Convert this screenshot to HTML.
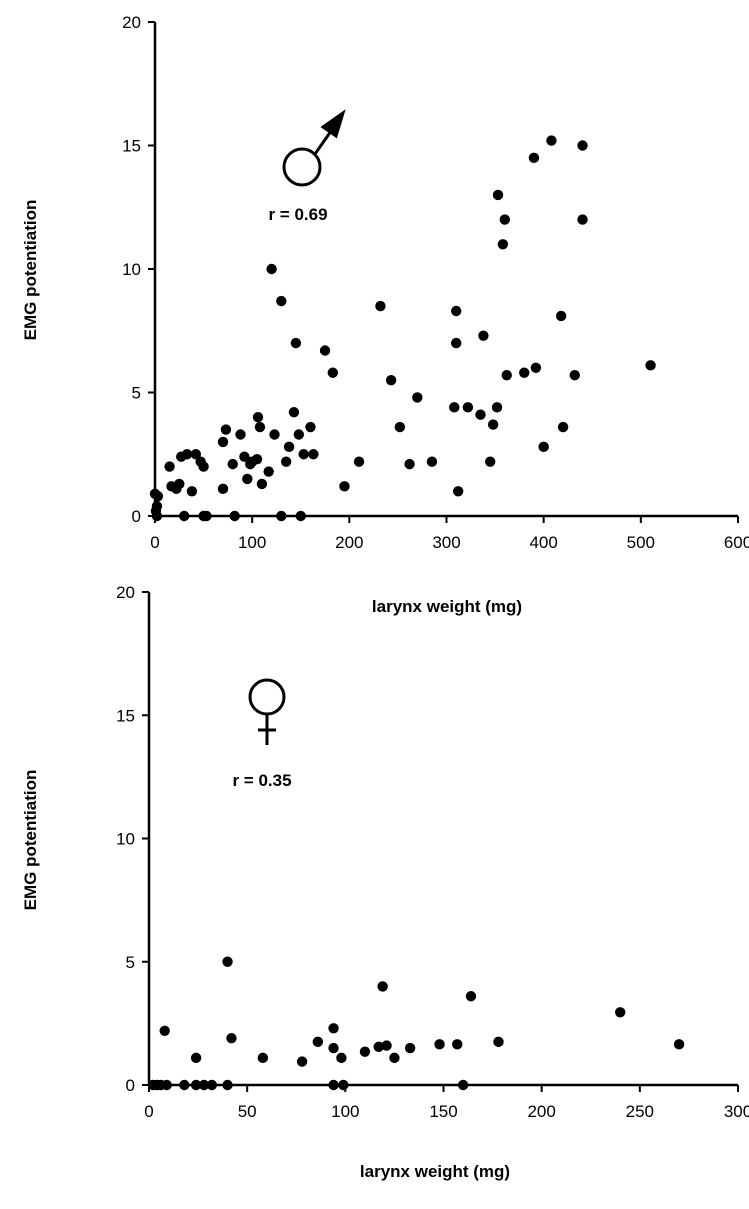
<!DOCTYPE html>
<html><head><meta charset="utf-8"><style>
body{margin:0;background:#fff}
svg{display:block;font-family:"Liberation Sans",Arial,sans-serif}
</style></head><body>
<svg id="s" width="749" height="1209" viewBox="0 0 749 1209"></svg>
<script>
const maleX=[0,3,2,1,2,15,17,22,25,27,30,33,38,42,47,50,50,53,70,70,73,80,82,88,92,95,98,100,105,106,108,110,117,120,123,130,130,135,138,143,145,148,150,153,160,163,175,183,195,210,232,243,252,262,270,285,308,310,310,312,322,335,338,345,348,352,353,358,360,362,380,390,392,400,408,418,420,432,440,440,510];
const maleY=[0.9,0.8,0.4,0.2,0,2.0,1.2,1.1,1.3,2.4,0,2.5,1.0,2.5,2.2,2.0,0,0,3.0,1.1,3.5,2.1,0,3.3,2.4,1.5,2.1,2.2,2.3,4.0,3.6,1.3,1.8,10.0,3.3,8.7,0,2.2,2.8,4.2,7.0,3.3,0,2.5,3.6,2.5,6.7,5.8,1.2,2.2,8.5,5.5,3.6,2.1,4.8,2.2,4.4,7.0,8.3,1.0,4.4,4.1,7.3,2.2,3.7,4.4,13.0,11.0,12.0,5.7,5.8,14.5,6.0,2.8,15.2,8.1,3.6,5.7,15.0,12.0,6.1];
const femX=[2,4,6,9,8,18,24,28,32,40,24,40,42,58,78,86,94,94,94,99,98,110,117,119,121,125,133,148,157,160,164,178,240,270];
const femY=[0,0,0,0,2.2,0,0,0,0,0,1.1,5.0,1.9,1.1,0.95,1.75,2.3,1.5,0,0,1.1,1.35,1.55,4.0,1.6,1.1,1.5,1.65,1.65,0,3.6,1.75,2.95,1.65];
const topXTicks=[0,100,200,300,400,500,600];
const botXTicks=[0,50,100,150,200,250,300];
const yTicks=[0,5,10,15,20];
const NS="http://www.w3.org/2000/svg";
const s=document.getElementById('s');
function el(t,a,txt){const e=document.createElementNS(NS,t);for(const k in a)e.setAttribute(k,a[k]);if(txt!==undefined)e.textContent=txt;s.appendChild(e);return e;}
function chart(p,xs,ys,xt,name){
 const sx=v=>p.x0+(v-p.xmin)/(p.xmax-p.xmin)*(p.x1-p.x0);
 const sy=v=>p.y0-v/20*(p.y0-p.y1);
 let e=el('line',{x1:p.x0,y1:p.y0,x2:p.x1,y2:p.y0,stroke:'#000','stroke-width':2.5});
 
 
 e=el('line',{x1:p.x0,y1:p.y0+1,x2:p.x0,y2:p.y1,stroke:'#000','stroke-width':2.5});
 
 
 xt.forEach(v=>{el('line',{x1:sx(v),y1:p.y0,x2:sx(v),y2:p.y0+7,stroke:'#000','stroke-width':2});
  const t=el('text',{x:sx(v),y:p.y0+32,'text-anchor':'middle','font-size':17},v);
  
  });
 yTicks.forEach(v=>{el('line',{x1:p.x0-7,y1:sy(v),x2:p.x0,y2:sy(v),stroke:'#000','stroke-width':2});
  const t=el('text',{x:p.x0-14,y:sy(v)+6,'text-anchor':'end','font-size':17},v);
  
  });
 xs.forEach((v,i)=>{const c=el('circle',{cx:sx(v),cy:sy(ys[i]),r:5.2,fill:'#000'});
  
  });
}
chart({x0:155,x1:738,xmin:0,xmax:600,y0:516,y1:22},maleX,maleY,topXTicks,'male-chart');
chart({x0:149,x1:738,xmin:0,xmax:300,y0:1085,y1:592},femX,femY,botXTicks,'female-chart');
</script>
<script>
(function(){
const NS="http://www.w3.org/2000/svg",s=document.getElementById('s');
function add(t,a,txt){const e=document.createElementNS(NS,t);for(const k in a)e.setAttribute(k,a[k]);if(txt!==undefined)e.textContent=txt;s.appendChild(e);return e;}
let e;
e=add('text',{x:0,y:0,transform:'translate(36,270) rotate(-90)','text-anchor':'middle','font-size':17,'font-weight':'bold'},'EMG potentiation');


e=add('text',{x:0,y:0,transform:'translate(36,840) rotate(-90)','text-anchor':'middle','font-size':17,'font-weight':'bold'},'EMG potentiation');


e=add('text',{x:447,y:612,'text-anchor':'middle','font-size':17,'font-weight':'bold'},'larynx weight (mg)');


e=add('text',{x:435,y:1177,'text-anchor':'middle','font-size':17,'font-weight':'bold'},'larynx weight (mg)');


e=add('text',{x:298,y:220,'text-anchor':'middle','font-size':17,'font-weight':'bold'},'r = 0.69');


e=add('text',{x:262,y:786,'text-anchor':'middle','font-size':17,'font-weight':'bold'},'r = 0.35');


const g=add('g',{stroke:'#000','stroke-width':3,fill:'none'});


g.innerHTML='<circle cx="302" cy="167" r="18"/><line x1="315" y1="154" x2="336" y2="124"/><polygon points="343,113 323,127 336,136" fill="#000"/>';
const g2=add('g',{stroke:'#000','stroke-width':3,fill:'none'});


g2.innerHTML='<circle cx="267" cy="697" r="17"/><line x1="267" y1="714" x2="267" y2="745"/><line x1="258" y1="730" x2="276" y2="730"/>';
})();
</script>
</body></html>
